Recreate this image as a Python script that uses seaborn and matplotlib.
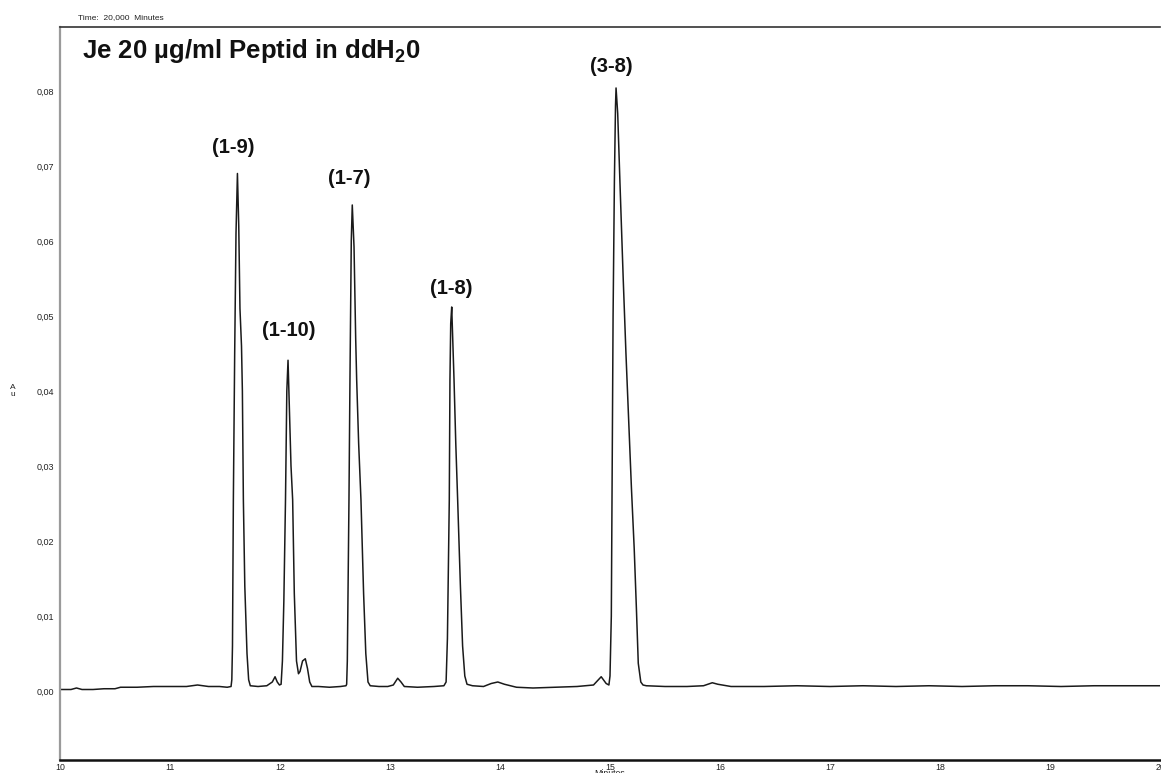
import matplotlib
matplotlib.use("Agg")
import matplotlib.pyplot as plt
import seaborn as sns
import pandas as pd

# ---------------- data ----------------
time_min = [
    10.00, 10.05, 10.10, 10.15, 10.20, 10.30, 10.40, 10.50, 10.55, 10.70, 10.85, 11.00,
    11.15, 11.25, 11.35, 11.45, 11.52,
    11.555, 11.562, 11.568, 11.576, 11.588, 11.600, 11.613, 11.625, 11.636, 11.650,
    11.658, 11.667, 11.680, 11.700, 11.715, 11.730, 11.80, 11.88, 11.93, 11.955,
    11.975, 11.995, 12.010,
    12.022, 12.035, 12.050, 12.062, 12.073, 12.085, 12.100, 12.115, 12.130, 12.150,
    12.168, 12.182, 12.205, 12.230, 12.250, 12.270, 12.290, 12.35, 12.45, 12.55, 12.600,
    12.606, 12.612, 12.620, 12.627, 12.636, 12.648, 12.657, 12.665, 12.673, 12.688,
    12.697, 12.715, 12.736, 12.760, 12.780, 12.800, 12.820, 12.90, 12.98, 13.03,
    13.07, 13.10, 13.13, 13.25, 13.40, 13.49,
    13.510, 13.522, 13.539, 13.545, 13.552, 13.561, 13.568, 13.582, 13.598, 13.615,
    13.640, 13.660, 13.680, 13.700, 13.75, 13.85, 13.92, 13.98, 14.04, 14.15, 14.30,
    14.50, 14.70, 14.85, 14.92, 14.965, 14.99,
    15.000, 15.012, 15.020, 15.028, 15.040, 15.050, 15.055, 15.070, 15.090, 15.120,
    15.145, 15.167, 15.195, 15.220, 15.240, 15.257, 15.280, 15.300, 15.33, 15.50,
    15.70, 15.85, 15.93, 15.98, 16.10, 16.40, 16.70, 17.00, 17.30, 17.60, 17.90,
    18.20, 18.50, 18.80, 19.10, 19.40, 19.70, 20.00,
]
absorbance_au = [
    0.0002, 0.0002, 0.0002, 0.0004, 0.0002, 0.0002, 0.0003, 0.0003, 0.0005, 0.0005, 0.0006, 0.0006,
    0.0006, 0.0008, 0.0006, 0.0006, 0.0005,
    0.0006, 0.0015, 0.0060, 0.0255, 0.0450, 0.0610, 0.0690, 0.0620, 0.0510, 0.0460,
    0.0400, 0.0255, 0.0140, 0.0050, 0.0015, 0.0007, 0.0006, 0.0007, 0.0012, 0.0019,
    0.0012, 0.0008, 0.0009,
    0.0040, 0.0120, 0.0255, 0.0400, 0.0441, 0.0380, 0.0300, 0.0255, 0.0130, 0.0040,
    0.0023, 0.0026, 0.0040, 0.0043, 0.0030, 0.0012, 0.0006, 0.0006, 0.0005, 0.0006, 0.0007,
    0.0009, 0.0040, 0.0150, 0.0255, 0.0415, 0.0600, 0.0648, 0.0620, 0.0592, 0.0470,
    0.0415, 0.0330, 0.0255, 0.0130, 0.0050, 0.0012, 0.0007, 0.0006, 0.0006, 0.0008,
    0.0017, 0.0012, 0.0006, 0.0005, 0.0006, 0.0007,
    0.0012, 0.0070, 0.0255, 0.0415, 0.0490, 0.0512, 0.0480, 0.0415, 0.0330, 0.0255,
    0.0140, 0.0060, 0.0020, 0.0009, 0.0007, 0.0006, 0.0010, 0.0012, 0.0009, 0.0005, 0.0004,
    0.0005, 0.0006, 0.0008, 0.0019, 0.0010, 0.0008,
    0.0020, 0.0100, 0.0300, 0.0500, 0.0680, 0.0780, 0.0804, 0.0770, 0.0680, 0.0550,
    0.0450, 0.0370, 0.0270, 0.0190, 0.0110, 0.0037, 0.0012, 0.0008, 0.0007, 0.0006,
    0.0006, 0.0007, 0.0011, 0.0009, 0.0006, 0.0006, 0.0007, 0.0006, 0.0007, 0.0006, 0.0007,
    0.0006, 0.0007, 0.0007, 0.0006, 0.0007, 0.0007, 0.0007,
]

peak_labels = ["(1-9)", "(1-10)", "(1-7)", "(1-8)", "(3-8)"]
peak_label_time = [11.573, 12.082, 12.627, 13.555, 15.009]
peak_label_abs = [0.0725, 0.0480, 0.0683, 0.0536, 0.0832]

y_ticks = [0.00, 0.01, 0.02, 0.03, 0.04, 0.05, 0.06, 0.07, 0.08]
y_tick_labels = ["0,00", "0,01", "0,02", "0,03", "0,04", "0,05", "0,06", "0,07", "0,08"]
x_ticks = [10, 11, 12, 13, 14, 15, 16, 17, 18, 19, 20]
x_tick_labels = ["10", "11", "12", "13", "14", "15", "16", "17", "18", "19", "20"]

title_text = "Je 20 µg/ml Peptid in ddH$_2$0"
header_text = "Time:  20,000  Minutes"
x_label = "Minutes"
y_label = "A\nu"

# ---------------- figure ----------------
sns.set_style("white")
plt.rcParams["font.family"] = ["Liberation Sans", "DejaVu Sans"]
plt.rcParams["mathtext.fontset"] = "custom"
plt.rcParams["mathtext.rm"] = "Liberation Sans:bold"
plt.rcParams["mathtext.it"] = "Liberation Sans:bold"
plt.rcParams["mathtext.bf"] = "Liberation Sans:bold"
plt.rcParams["mathtext.default"] = "rm"

W, H = 1161, 773
fig = plt.figure(figsize=(W / 100, H / 100), dpi=100)
left_px, right_px, top_px, bottom_px = 60, 1160, 27, 760
ax = fig.add_axes([left_px / W, (H - bottom_px) / H,
                   (right_px - left_px) / W, (bottom_px - top_px) / H])

df = pd.DataFrame({"time": time_min, "abs": absorbance_au})
sns.lineplot(data=df, x="time", y="abs", sort=False, estimator=None,
             color="#1a1a1a", linewidth=1.1, ax=ax)

ax.set_xlim(10, 20)
ax.set_ylim(-0.0092, 0.08853)
ax.set_xticks(x_ticks)
ax.set_xticklabels(x_tick_labels)
ax.set_yticks(y_ticks)
ax.set_yticklabels(y_tick_labels)
ax.set_xlabel("")
ax.set_ylabel("")

ax.tick_params(axis="y", direction="out", length=3, width=0.8, color="#666666",
               labelsize=6.5, pad=1, labelcolor="#222222")
ax.tick_params(axis="x", direction="inout", length=4, width=0.8, color="#222222",
               labelsize=6.3, pad=0, labelcolor="#222222")

ax.spines["right"].set_visible(False)
ax.spines["left"].set_color("#9a9a9a")
ax.spines["left"].set_linewidth(1.6)
ax.spines["bottom"].set_color("#111111")
ax.spines["bottom"].set_linewidth(1.8)
ax.spines["top"].set_color("#333333")
ax.spines["top"].set_linewidth(1.2)

for lab, t, v in zip(peak_labels, peak_label_time, peak_label_abs):
    ax.text(t, v, lab, ha="center", va="center", fontsize=14.5,
            fontweight="bold", color="#111111")

fig.text(82 / W, 1 - 51 / H, title_text, ha="left", va="center",
         fontsize=18.5, fontweight="bold", color="#111111")
fig.text(78 / W, 1 - 18 / H, header_text, ha="left", va="center",
         fontsize=6, color="#222222")
fig.text(13 / W, 1 - 391 / H, y_label, ha="center", va="center",
         fontsize=6, color="#222222", linespacing=1.1)
fig.text(610 / W, 1 - 769 / H, x_label, ha="center", va="top",
         fontsize=6.3, color="#222222")

fig.savefig("out.png", dpi=100)
